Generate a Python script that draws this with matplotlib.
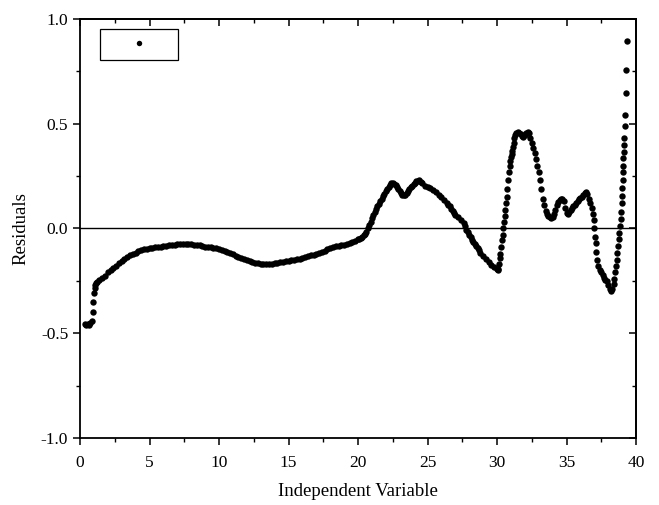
import matplotlib
matplotlib.use("Agg")
import matplotlib.pyplot as plt
import numpy as np

plt.rcParams["font.family"] = ["Liberation Serif", "DejaVu Serif"]
plt.rcParams["axes.unicode_minus"] = False

# flat start, near x = 0
x_start = [0.35, 0.45, 0.55, 0.65, 0.75, 0.85, 0.9, 0.95, 1.0, 1.05, 1.1, 1.15]
y_start = [-0.455, -0.46, -0.455, -0.46, -0.45, -0.44, -0.40, -0.35, -0.31, -0.285, -0.27, -0.26]

# smooth part, 1.2 .. 30.0
x_mid = [1.2, 1.4, 1.6, 1.8, 2.0, 2.2, 2.4, 2.6, 2.8, 3.0, 3.2, 3.4, 3.6, 3.8, 4.0, 4.2, 4.4, 4.6, 4.8, 5.0,
         5.2, 5.4, 5.6, 5.8, 6.0, 6.2, 6.4, 6.6, 6.8, 7.0, 7.2, 7.4, 7.6, 7.8, 8.0, 8.2, 8.4, 8.6, 8.8, 9.0,
         9.2, 9.4, 9.6, 9.8, 10.0, 10.2, 10.4, 10.6, 10.8, 11.0, 11.2, 11.4, 11.6, 11.8, 12.0, 12.2, 12.4,
         12.6, 12.8, 13.0, 13.2, 13.4, 13.6, 13.8, 14.0, 14.2, 14.4, 14.6, 14.8, 15.0, 15.2, 15.4, 15.6,
         15.8, 16.0, 16.2, 16.4, 16.6, 16.8, 17.0, 17.2, 17.4, 17.6, 17.8, 18.0, 18.2, 18.4, 18.6, 18.8,
         19.0, 19.2, 19.4, 19.6, 19.8, 20.0, 20.1, 20.2, 20.3, 20.4, 20.5, 20.6, 20.7, 20.8, 20.9, 21.0,
         21.1, 21.2, 21.3, 21.4, 21.5, 21.6, 21.7, 21.8, 21.9, 22.0, 22.1, 22.2, 22.3, 22.4, 22.5, 22.6,
         22.7, 22.8, 22.9, 23.0, 23.1, 23.2, 23.3, 23.4, 23.5, 23.6, 23.7, 23.8, 23.9, 24.0, 24.1, 24.2,
         24.3, 24.4, 24.5, 24.6, 24.8, 25.0, 25.2, 25.4, 25.6, 25.8, 26.0, 26.2, 26.4, 26.5, 26.6, 26.7,
         26.8, 26.9, 27.0, 27.2, 27.4, 27.6, 27.7, 27.8, 27.9, 28.0, 28.1, 28.2, 28.3, 28.4, 28.5, 28.6,
         28.7, 28.8, 29.0, 29.2, 29.4, 29.6, 29.8, 30.0]
y_mid = [-0.255, -0.245, -0.235, -0.225, -0.21, -0.20, -0.19, -0.18, -0.165, -0.155, -0.145, -0.135, -0.125,
         -0.12, -0.115, -0.108, -0.103, -0.10, -0.097, -0.095, -0.093, -0.09, -0.088, -0.086, -0.084, -0.082,
         -0.08, -0.078, -0.077, -0.076, -0.075, -0.075, -0.074, -0.075, -0.076, -0.077, -0.078, -0.08, -0.083,
         -0.086, -0.088, -0.09, -0.092, -0.095, -0.098, -0.102, -0.106, -0.112, -0.118, -0.124, -0.13, -0.135,
         -0.14, -0.146, -0.151, -0.155, -0.159, -0.163, -0.166, -0.168, -0.169, -0.17, -0.17, -0.168, -0.165,
         -0.166, -0.162, -0.158, -0.157, -0.155, -0.152, -0.15, -0.148, -0.145, -0.14, -0.136, -0.13, -0.128,
         -0.126, -0.122, -0.118, -0.112, -0.106, -0.10, -0.094, -0.088, -0.085, -0.083, -0.08, -0.078, -0.074,
         -0.07, -0.066, -0.06, -0.052, -0.049, -0.045, -0.04, -0.032, -0.025, -0.015, 0.0, 0.015, 0.032, 0.05,
         0.065, 0.08, 0.092, 0.105, 0.118, 0.13, 0.142, 0.155, 0.166, 0.178, 0.19, 0.20, 0.208, 0.215, 0.216,
         0.212, 0.206, 0.20, 0.19, 0.18, 0.17, 0.162, 0.158, 0.16, 0.17, 0.18, 0.19, 0.197, 0.204, 0.21,
         0.218, 0.225, 0.228, 0.23, 0.224, 0.215, 0.205, 0.20, 0.193, 0.185, 0.172, 0.16, 0.148, 0.135, 0.122,
         0.114, 0.105, 0.095, 0.085, 0.075, 0.065, 0.055, 0.04, 0.025, 0.012, -0.005, -0.018, -0.03, -0.042,
         -0.053, -0.064, -0.075, -0.085, -0.095, -0.105, -0.115, -0.13, -0.145, -0.16, -0.172, -0.183, -0.195]

# steep wiggles at the end, 30.05 .. 39.36
x_end = [30.05, 30.1, 30.15, 30.2, 30.25, 30.3, 30.35, 30.4, 30.45, 30.5, 30.55, 30.6, 30.65, 30.7, 30.75,
         30.8, 30.85, 30.9, 30.95, 31.0, 31.05, 31.1, 31.15, 31.2, 31.25, 31.3, 31.4, 31.5, 31.6, 31.7,
         31.8, 31.9, 32.0, 32.1, 32.2, 32.3, 32.4, 32.5, 32.6, 32.7, 32.8, 32.9, 33.0, 33.1, 33.2, 33.3,
         33.4, 33.5, 33.6, 33.7, 33.8, 33.9, 34.0, 34.1, 34.2, 34.3, 34.4, 34.5, 34.6, 34.7, 34.8, 34.9,
         35.0, 35.1, 35.2, 35.3, 35.4, 35.5, 35.6, 35.7, 35.8, 35.9, 36.0, 36.1, 36.2, 36.3, 36.4, 36.5,
         36.6, 36.7, 36.8, 36.9, 36.95, 37.0, 37.05, 37.1, 37.15, 37.2, 37.3, 37.4, 37.5, 37.6, 37.7, 37.8,
         37.9, 38.0, 38.1, 38.2, 38.3, 38.4, 38.45, 38.5, 38.55, 38.6, 38.65, 38.7, 38.75, 38.8, 38.85,
         38.9, 38.93, 38.96, 38.99, 39.02, 39.04, 39.06, 39.08, 39.1, 39.12, 39.14, 39.16, 39.2, 39.22,
         39.26, 39.3, 39.36]
y_end = [-0.20, -0.195, -0.17, -0.14, -0.12, -0.09, -0.055, -0.03, 0.0, 0.03, 0.06, 0.09, 0.12, 0.15, 0.19,
         0.23, 0.27, 0.30, 0.32, 0.34, 0.355, 0.37, 0.39, 0.41, 0.43, 0.445, 0.455, 0.46, 0.455, 0.45,
         0.44, 0.435, 0.445, 0.455, 0.46, 0.455, 0.43, 0.41, 0.385, 0.36, 0.33, 0.30, 0.27, 0.23, 0.19, 0.14,
         0.11, 0.085, 0.07, 0.06, 0.055, 0.05, 0.055, 0.07, 0.09, 0.11, 0.125, 0.135, 0.14, 0.14, 0.13, 0.10,
         0.075, 0.07, 0.08, 0.09, 0.10, 0.105, 0.11, 0.12, 0.13, 0.14, 0.145, 0.15, 0.16, 0.168, 0.173, 0.165,
         0.14, 0.12, 0.10, 0.07, 0.04, 0.0, -0.04, -0.07, -0.11, -0.15, -0.18, -0.20, -0.21, -0.22, -0.235,
         -0.245, -0.25, -0.27, -0.29, -0.30, -0.29, -0.265, -0.24, -0.21, -0.18, -0.15, -0.115, -0.085, -0.05,
         -0.02, 0.01, 0.045, 0.08, 0.12, 0.155, 0.195, 0.23, 0.27, 0.30, 0.335, 0.365, 0.40, 0.43, 0.49,
         0.54, 0.645, 0.755, 0.895]

x = np.array(x_start + x_mid + x_end)
y = np.array(y_start + y_mid + y_end)

fig = plt.figure(figsize=(6.59, 5.05), dpi=100)
ax = fig.add_axes([0.1214, 0.1327, 0.8437, 0.8297])

pts, = ax.plot(x, y, "o", color="black", ms=4.6, mew=0, linestyle="none")
ax.axhline(0, color="black", lw=1.0)

ax.set_xlim(0, 40)
ax.set_ylim(-1.0, 1.0)
ax.set_xticks(np.arange(0, 41, 5))
ax.set_xticks(np.arange(0, 40.1, 2.5), minor=True)
ax.set_yticks([-1.0, -0.5, 0.0, 0.5, 1.0])
ax.set_yticks(np.arange(-1.0, 1.01, 0.25), minor=True)
ax.yaxis.set_major_formatter(matplotlib.ticker.FormatStrFormatter("%.1f"))

for s in ax.spines.values():
    s.set_linewidth(1.3)
ax.tick_params(which="major", direction="out", length=5, width=1.1, labelsize=12.5)
ax.tick_params(which="minor", direction="out", length=3, width=1.0)
ax.tick_params(axis="x", which="major", pad=7)

# inward ticks on top and right
top = ax.secondary_xaxis("top")
top.set_xticks(np.arange(0, 41, 5))
top.set_xticks(np.arange(0, 40.1, 2.5), minor=True)
top.tick_params(which="major", direction="in", length=5, width=1.1, labeltop=False)
top.tick_params(which="minor", direction="in", length=3, width=1.0)
right = ax.secondary_yaxis("right")
right.set_yticks([-1.0, -0.5, 0.0, 0.5, 1.0])
right.set_yticks(np.arange(-1.0, 1.01, 0.25), minor=True)
right.tick_params(which="major", direction="in", length=5, width=1.1, labelright=False)
right.tick_params(which="minor", direction="in", length=3, width=1.0)
top.spines["top"].set_linewidth(1.3)
right.spines["right"].set_linewidth(1.3)

ax.set_xlabel("Independent Variable", fontsize=13.5, labelpad=9)
ax.set_ylabel("Residuals", fontsize=13.5, labelpad=8)

leg = ax.legend([pts], [""], loc="upper left", bbox_to_anchor=(0.036, 0.976),
                frameon=True, fancybox=False, edgecolor="black", framealpha=1,
                borderpad=0.45, handlelength=3.8, handletextpad=0.0, borderaxespad=0,
                fontsize=12, markerscale=0.85)
leg.get_frame().set_linewidth(0.9)

fig.savefig("out.png", dpi=100)
